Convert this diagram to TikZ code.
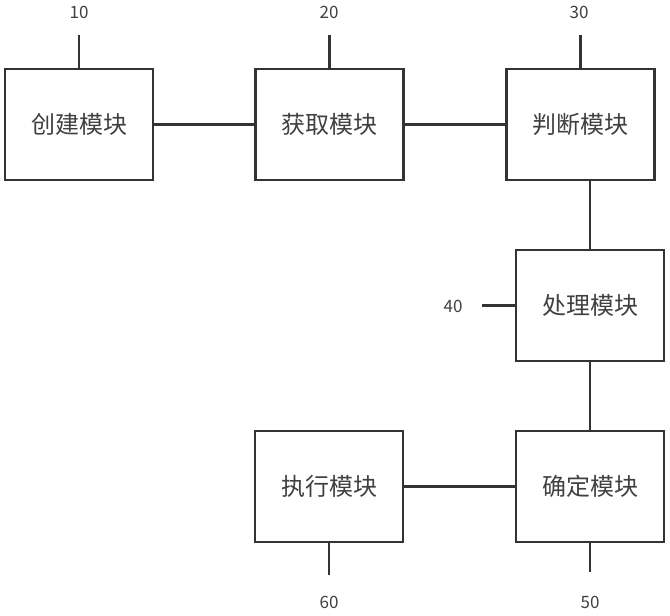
\documentclass[tikz,border=0pt]{standalone}
\usepackage{fontspec}
\newfontfamily\cjk{Noto Sans CJK SC}
\usetikzlibrary{positioning}

\begin{document}
\begin{tikzpicture}[x=1pt, y=-1pt, node distance=100pt]
\tikzstyle{module} = [rectangle, draw = black!80, line width=2.6pt, minimum width=148pt, minimum height=111pt, font=\cjk\fontsize{24}{28}\selectfont, text=black!75]
\tikzstyle{num} = [font=\cjk\fontsize{17}{20}\selectfont, text=black!75]
\tikzstyle{link} = [draw = black!80, line width=2.6pt]
\useasboundingbox (0,0) rectangle (670,616);
\node (create) [module] at (79,124.5) {创建模块};
\node (obtain) [module, right = of create] {获取模块};
\node (judge) [module, right = of obtain] {判断模块};
\node (process) [module] at (590,305.5) {处理模块};
\node (determine) [module] at (590,486.5) {确定模块};
\node (execute) [module] at (329,486.5) {执行模块};
\draw [link] (create) -- (obtain);
\draw [link] (obtain) -- (judge);
\draw [link] (process.north) -- (process.north |- judge.south);
\draw [link] (process) -- (determine);
\draw [link] (determine) -- (execute);
% reference numbers
\node (n10) [num] at (79,12) {10};
\node (n20) [num] at (329,12) {20};
\node (n30) [num] at (579,12) {30};
\node (n40) [num] at (453,306) {40};
\node (n50) [num] at (590,602) {50};
\node (n60) [num] at (329,602) {60};
\coordinate (t10) at (79,35);
\coordinate (t20) at (329,35);
\coordinate (t30) at (579,35);
\coordinate (t40) at (482,305.5);
\coordinate (t50) at (590,572);
\coordinate (t60) at (329,575);
\draw [link] (create.north) -- (t10);
\draw [link] (obtain.north) -- (t20 -| obtain.north);
\draw [link] (judge.north) -- (t30 -| judge.north);
\draw [link] (process.west) -- (t40);
\draw [link] (determine.south) -- (t50);
\draw [link] (execute.south) -- (t60);
\end{tikzpicture}
\end{document}
